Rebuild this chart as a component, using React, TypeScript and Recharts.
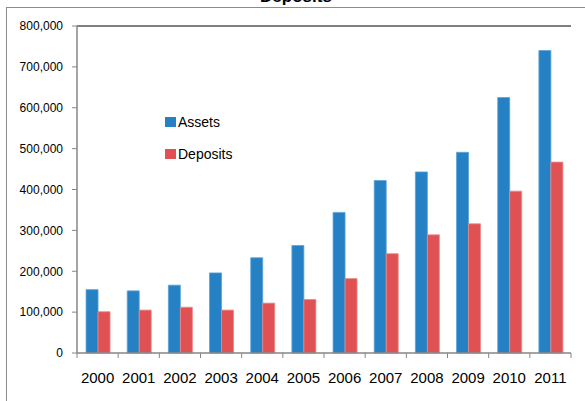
import React from 'react';
import { BarChart, Bar, XAxis, YAxis, Legend, ReferenceLine } from 'recharts';

const years = ['2000', '2001', '2002', '2003', '2004', '2005', '2006', '2007', '2008', '2009', '2010', '2011'];
const assets = [155000, 152000, 166000, 196000, 233000, 263000, 344000, 422000, 443000, 491000, 625000, 740000];
const deposits = [101000, 105000, 112000, 105000, 122000, 131000, 182000, 243000, 289000, 316000, 396000, 467000];
const yTicks = [0, 100000, 200000, 300000, 400000, 500000, 600000, 700000, 800000];

const data = years.map((year, i) => ({ year, Assets: assets[i], Deposits: deposits[i] }));

const FONT = '"Liberation Sans", Arial, sans-serif';
const AXIS_GREY = '#868686';

const YearTick = (props: any) => {
  const { x, y, payload, index, visibleTicksCount } = props;
  const half = payload.offset ?? 0;
  const isLast = index === (visibleTicksCount ?? years.length) - 1;
  return (
    <g>
      <line x1={x - half} y1={y} x2={x - half} y2={y + 5} stroke={AXIS_GREY} />
      {isLast && <line x1={x + half} y1={y} x2={x + half} y2={y + 5} stroke={AXIS_GREY} />}
      <text x={x} y={y + 30} textAnchor="middle" fontSize={15} fill="#000" fontFamily={FONT}>
        {payload.value}
      </text>
    </g>
  );
};

const LegendBox = (props: any) => {
  const items = props.payload || [];
  return (
    <div style={{ fontFamily: FONT, fontSize: 14, color: '#000' }}>
      {items.map((it: any) => (
        <div key={it.value} style={{ display: 'flex', alignItems: 'center', height: 20, marginBottom: 12 }}>
          <span style={{ width: 11, height: 10, background: it.color, display: 'inline-block', marginRight: 2 }} />
          <span>{it.value}</span>
        </div>
      ))}
    </div>
  );
};

export default function App() {
  return (
    <div style={{ position: 'fixed', left: 0, top: 0, width: 585, height: 401, overflow: 'hidden', background: '#fff' }}>
      <div style={{ position: 'absolute', left: 6, top: 7, width: 620, height: 440, border: '1px solid #8c8c8c' }} />
      <div
        style={{
          position: 'absolute', left: 6, top: -13, width: 580, textAlign: 'center',
          fontFamily: FONT, fontWeight: 'bold', fontSize: 17, lineHeight: '20px', color: '#000',
        }}
      >
        Deposits
      </div>
      <div style={{ position: 'absolute', left: 0, top: 0 }}>
        <BarChart
          width={585}
          height={401}
          data={data}
          margin={{ top: 26, right: 14, left: 7, bottom: 0 }}
          barCategoryGap="22%"
          barGap={0}
          style={{ fontFamily: FONT }}
        >
          <XAxis
            dataKey="year"
            height={48}
            axisLine={{ stroke: AXIS_GREY, strokeWidth: 1.5 }}
            tickLine={false}
            tickSize={0}
            tickMargin={0}
            interval={0}
            tick={<YearTick />}
          />
          <YAxis
            width={70}
            domain={[0, 800000]}
            ticks={yTicks}
            interval={0}
            tickFormatter={(v: number) => v.toLocaleString('en-US')}
            tick={{ fontSize: 12, fill: '#000', fontFamily: FONT }}
            axisLine={{ stroke: AXIS_GREY, strokeWidth: 1.5 }}
            tickLine={{ stroke: AXIS_GREY }}
            tickSize={5}
            tickMargin={9}
          />
          <YAxis
            yAxisId="frame"
            orientation="right"
            width={0}
            domain={[0, 800000]}
            tick={false}
            tickLine={false}
            axisLine={{ stroke: '#000' }}
          />
          <ReferenceLine y={800000} stroke="#000" />
          <Legend
            verticalAlign="middle"
            align="center"
            layout="vertical"
            content={<LegendBox />}
            wrapperStyle={{ position: 'absolute', left: 165, top: 112, width: 'auto', height: 'auto' }}
          />
          <Bar dataKey="Assets" fill="#2581C4" stroke="#5aa3da" strokeWidth={0.8} isAnimationActive={false} />
          <Bar dataKey="Deposits" fill="#DF5152" stroke="#ee8a8a" strokeWidth={0.8} isAnimationActive={false} />
        </BarChart>
      </div>
    </div>
  );
}
